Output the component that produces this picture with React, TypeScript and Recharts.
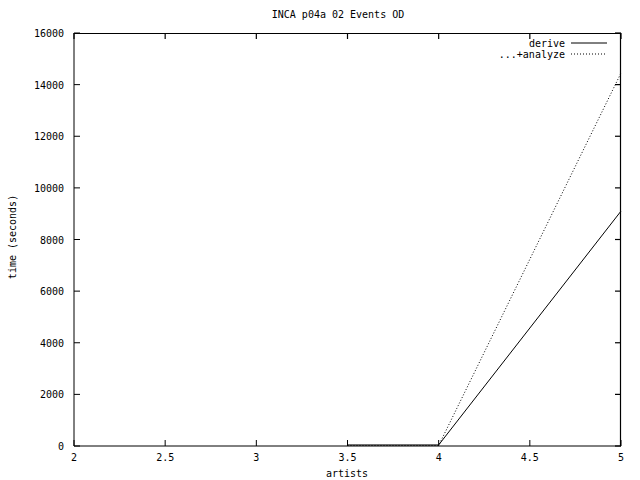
import React from "react";
import { Customized, Line, LineChart, XAxis, YAxis } from "recharts";

const artists = [3.5, 4, 5];
const deriveTimes = [40, 40, 9100];
const analyzeTimes = [20, 20, 14450];
const xTicks = [2, 2.5, 3, 3.5, 4, 4.5, 5];
const yTicks = [0, 2000, 4000, 6000, 8000, 10000, 12000, 14000, 16000];
const seriesNames = ["derive", "...+analyze"];

const data = artists.map((a, i) => ({ artists: a, derive: deriveTimes[i], analyze: analyzeTimes[i] }));

const FONT = "'DejaVu Sans Mono', monospace";
const T = 6;
const W = 640, H = 480;
const M = { top: 33, right: 19, bottom: 0, left: 0 };
const Y_AXIS_W = 74, X_AXIS_H = 34;
const X_DOM = [xTicks[0], xTicks[xTicks.length - 1]];
const Y_DOM = [yTicks[0], yTicks[yTicks.length - 1]];

// plot box, same as recharts lays out from the margins and axis sizes
const left = M.left + Y_AXIS_W, top = M.top;
const right = W - M.right, bottom = H - M.bottom - X_AXIS_H;
const sx = (v: number) => left + (v - X_DOM[0]) / (X_DOM[1] - X_DOM[0]) * (right - left);
const sy = (v: number) => bottom - (v - Y_DOM[0]) / (Y_DOM[1] - Y_DOM[0]) * (bottom - top);

const BottomTick = (p: any) => <g>
  <line x1={p.x} x2={p.x} y1={p.y} y2={p.y - T} stroke="#000" />
  <text x={p.x} y={p.y + 15} textAnchor="middle" fontFamily={FONT} fontSize={10} fill="#000">{p.payload.value}</text>
</g>;
const LeftTick = (p: any) => <g>
  <line x1={p.x} x2={p.x + T} y1={p.y} y2={p.y} stroke="#000" />
  <text x={p.x - 10} y={p.y + 4} textAnchor="end" fontFamily={FONT} fontSize={10} fill="#000">{p.payload.value}</text>
</g>;

const Border = () => <g stroke="#000" strokeWidth={1.2} fill="none">
  <line x1={left} x2={right} y1={top + 0.5} y2={top + 0.5} />
  <line x1={right - 0.5} x2={right - 0.5} y1={top} y2={bottom} />
  {xTicks.map(t => <line key={"t" + t} x1={sx(t)} x2={sx(t)} y1={top} y2={top + T} />)}
  {yTicks.map(t => <line key={"r" + t} x1={right} x2={right - T} y1={sy(t)} y2={sy(t)} />)}
</g>;

const Texts = () => <g fontFamily={FONT} fontSize={10} fill="#000">
  <text x={338} y={18} textAnchor="middle">INCA p04a 02 Events OD</text>
  <text x={347} y={477} textAnchor="middle">artists</text>
  <text x={12} y={237} textAnchor="middle" dominantBaseline="central" transform="rotate(-90 12 237)">time (seconds)</text>
  {seriesNames.map((n, i) => <g key={n}>
    <text x={565} y={47 + i * 11} textAnchor="end">{n}</text>
    <line x1={571} x2={607} y1={43 + i * 11} y2={43 + i * 11} stroke="#000" strokeDasharray={i ? "1 2" : undefined} />
  </g>)}
</g>;

export default function App() {
  return <div style={{ position: "absolute", left: 0, top: 0, width: W, height: H, background: "#fff" }}>
    <LineChart width={W} height={H} data={data} margin={M}>
      <XAxis dataKey="artists" type="number" domain={X_DOM} ticks={xTicks} height={X_AXIS_H}
        tickLine={false} tickSize={0} tickMargin={0} tick={BottomTick} stroke="#000" interval={0} />
      <YAxis domain={Y_DOM} ticks={yTicks} width={Y_AXIS_W}
        tickLine={false} tickSize={0} tickMargin={0} tick={LeftTick} stroke="#000" interval={0} />
      <Line dataKey="derive" name={seriesNames[0]} stroke="#000" strokeWidth={1} dot={false} isAnimationActive={false} />
      <Line dataKey="analyze" name={seriesNames[1]} stroke="#000" strokeWidth={1} strokeDasharray="1 2" dot={false} isAnimationActive={false} />
      <Customized component={Border} />
      <Customized component={Texts} />
    </LineChart>
  </div>;
}
